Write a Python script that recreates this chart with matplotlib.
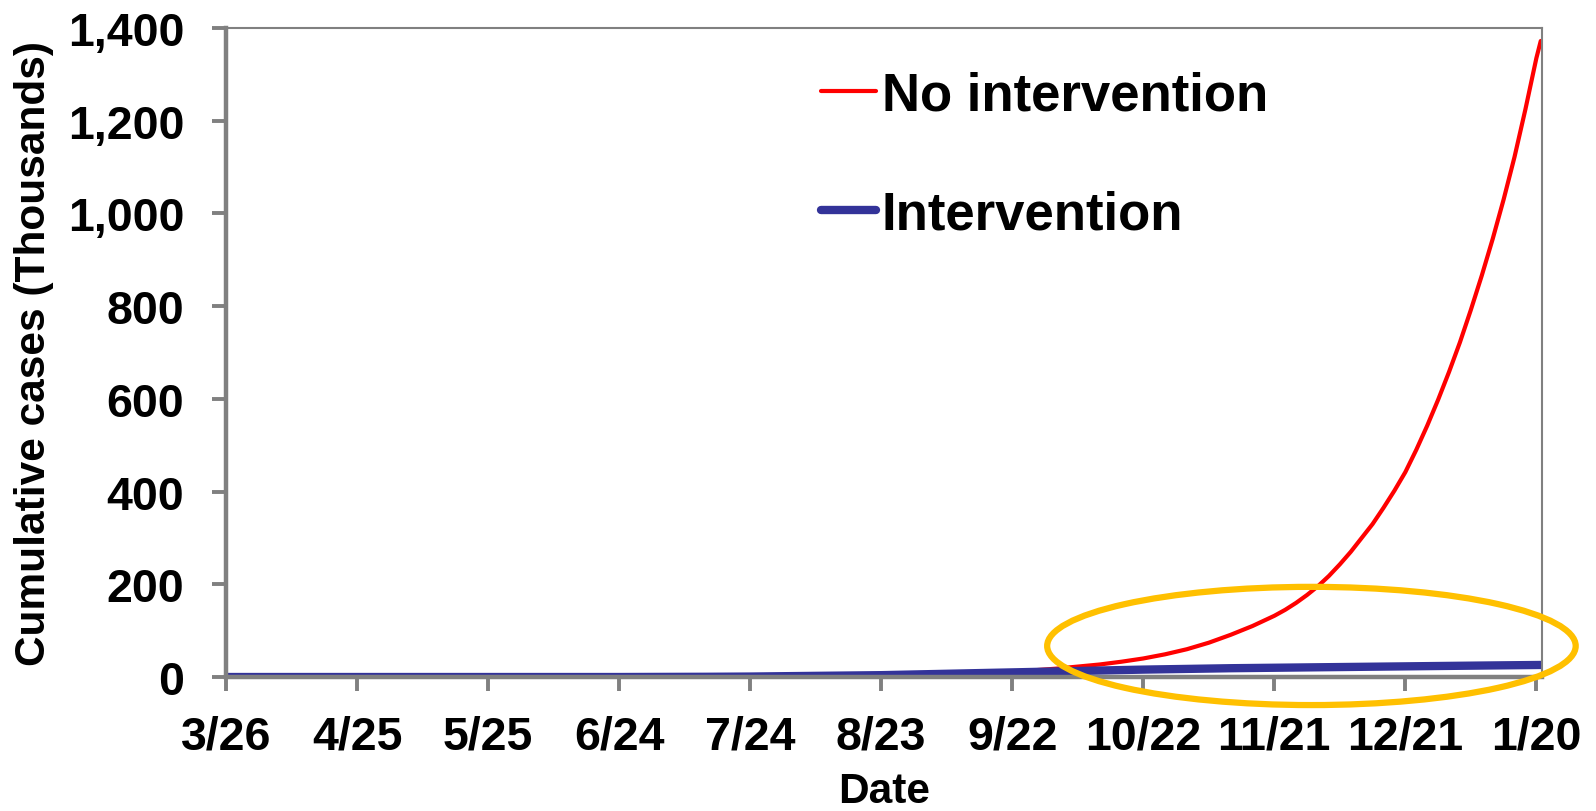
import matplotlib
matplotlib.use("Agg")
import matplotlib.pyplot as plt
from matplotlib.patches import Ellipse
from matplotlib.ticker import FuncFormatter

plt.rcParams['font.family'] = ['Liberation Sans', 'DejaVu Sans']
plt.rcParams['font.weight'] = 'bold'

# days after 3/26
red_days = [0, 30, 60, 90, 120, 140, 150, 160, 170, 180, 190, 200, 205, 210, 215,
            220, 225, 230, 235, 240, 242.5, 245, 247.5, 250, 252.5, 255, 257.5,
            260, 262.5, 265, 267.5, 270, 272.5, 275, 277.5, 280, 282.5, 285,
            287.5, 290, 292.5, 295, 297.5, 300, 301]
red_vals = [0, 0, 0, 0.5, 1, 2.5, 3.5, 5, 7.5, 11, 18, 27, 33, 40, 49,
            60, 74, 91, 110, 132, 145, 160, 177, 196, 218, 243, 270,
            300, 330, 365, 402, 442, 490, 542, 598, 658, 722, 792,
            866, 945, 1030, 1122, 1225, 1335, 1372]

blue_days = [0, 90, 110, 120, 130, 140, 150, 160, 170, 180, 190, 200, 210, 220,
             230, 240, 250, 260, 270, 280, 290, 301]
blue_vals = [0, 0, 0.5, 1, 2, 3, 4, 6, 8, 10, 12, 14, 16, 17.5,
             19, 20, 21, 22, 23, 24, 25, 26]

tick_days = [0, 30, 60, 90, 120, 150, 180, 210, 240, 270, 300]
tick_labels = ['3/26', '4/25', '5/25', '6/24', '7/24', '8/23', '9/22',
               '10/22', '11/21', '12/21', '1/20']
y_ticks = [0, 200, 400, 600, 800, 1000, 1200, 1400]

# highlight ellipse (data units)
ell_center = (248.5, 67)
ell_width = 121
ell_height = 255

fig = plt.figure(figsize=(15.96, 8.12), dpi=100)
ax = fig.add_axes([0.1416, 0.165, 0.8246, 0.7993])

ax.plot(red_days, red_vals, color='#FF0000', lw=3.0, solid_capstyle='round',
        solid_joinstyle='round', label='No intervention')
ax.plot(blue_days, blue_vals, color='#333399', lw=6.0, solid_capstyle='round',
        solid_joinstyle='round', label='Intervention')

ax.add_patch(Ellipse(ell_center, ell_width, ell_height, fill=False,
                     edgecolor='#FFC000', lw=4.5, clip_on=False, zorder=10))

ax.set_xlim(0, 301.3)
ax.set_ylim(0, 1400)
ax.set_xticks(tick_days)
ax.set_xticklabels(tick_labels)
ax.set_yticks(y_ticks)
ax.yaxis.set_major_formatter(FuncFormatter(lambda v, p: f'{int(v):,}'))

for side in ['left', 'bottom']:
    ax.spines[side].set_color('#808080')
    ax.spines[side].set_linewidth(3.2)
for side in ['right', 'top']:
    ax.spines[side].set_color('#808080')
    ax.spines[side].set_linewidth(1.5)

ax.tick_params(axis='both', direction='out', length=10, width=2.8,
               color='#808080', labelsize=33.5, labelcolor='black')
ax.tick_params(axis='y', pad=20)
ax.tick_params(axis='x', pad=17)

ax.set_xlabel('Date', fontsize=30.5, fontweight='bold', labelpad=9)
ax.set_ylabel('Cumulative cases (Thousands)', fontsize=30.5, fontweight='bold', labelpad=10)

ax.legend(loc='upper left', bbox_to_anchor=(0.436, 0.967), frameon=False,
          fontsize=38, handlelength=1.05, handletextpad=0.1, labelspacing=1.3,
          borderaxespad=0)

fig.savefig('out.png', dpi=100)
